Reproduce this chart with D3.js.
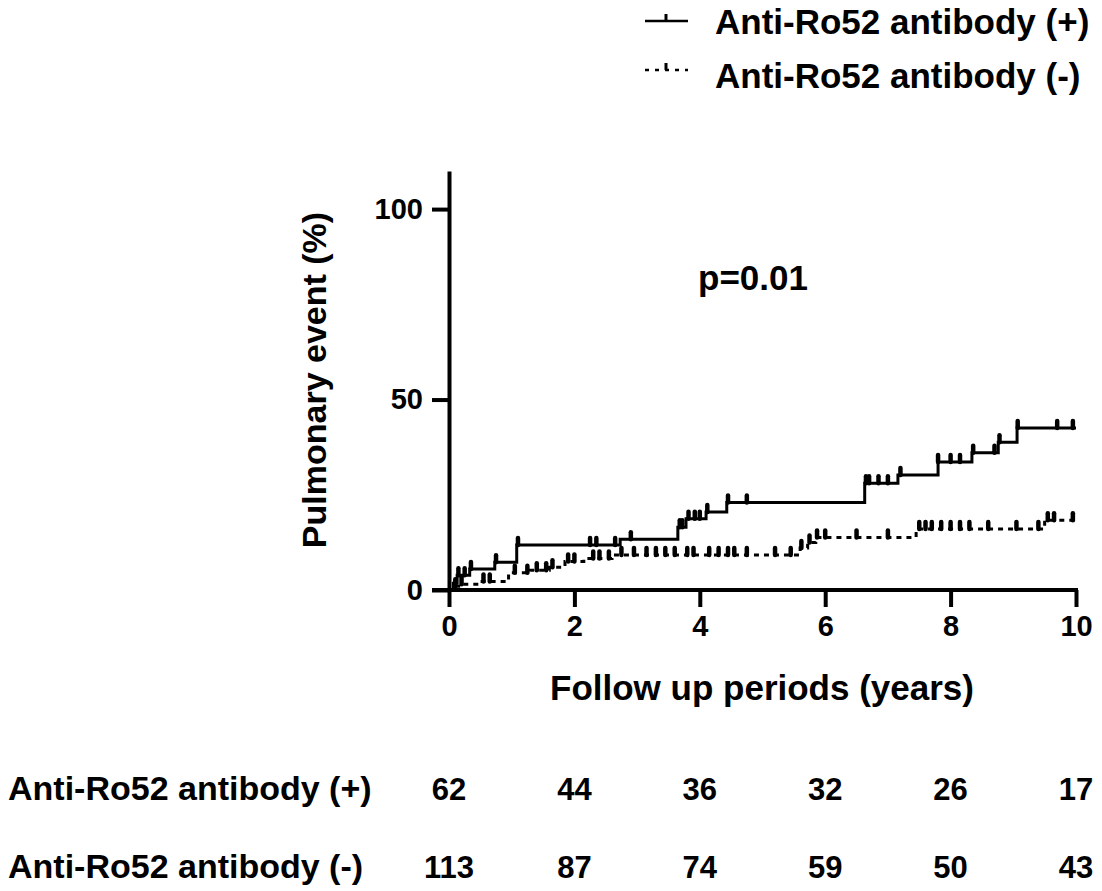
<!DOCTYPE html>
<html>
<head>
<meta charset="utf-8">
<script src="https://cdn.jsdelivr.net/npm/d3@7"></script>
<style>
  body { margin: 0; background: #fff; }
  text { font-family: Arial, "Liberation Sans", sans-serif; font-weight: bold; fill: #000; }
</style>
</head>
<body>
<div id="chart"></div>
<script>
// step curve data (years, cumulative %)
var posTimes = [0, 0.07, 0.13, 0.33, 0.73, 1.08, 2.73, 3.65, 3.78, 4.1, 4.43, 6.63, 7.16, 7.8, 8.34, 8.76, 9.06, 10];
var posPct   = [0, 1.8, 3.9, 5.5, 7.3, 11.8, 13.3, 16.5, 18.7, 20.5, 23, 28, 30.2, 33.6, 36, 38.8, 42.5, 42.5];
var negTimes = [0, 0.1, 0.2, 0.5, 0.95, 1.3, 1.6, 1.85, 2.15, 2.6, 5.6, 5.72, 5.85, 7.45, 9.5, 10];
var negPct   = [0, 1, 1.5, 2.2, 4.5, 5.2, 6, 7.5, 8.3, 9.2, 11, 12.5, 13.8, 16, 18.3, 18.3];

// censored observations (years)
var posCensor = [0.15, 0.25, 0.35, 0.75, 1.1, 2.25, 2.35, 2.65, 2.9, 3.68, 3.72, 3.82, 3.92, 4.0, 4.12, 4.45, 4.75,
                 6.65, 6.7, 6.85, 7.0, 7.2, 7.8, 8.0, 8.15, 8.36, 8.7, 8.78, 9.07, 9.7, 9.95];
var negCensor = [0.1, 0.2, 0.55, 0.65, 1.05, 1.25, 1.4, 1.55, 1.65, 1.9, 2.0, 2.3, 2.4, 2.55, 2.75, 2.95, 3.15, 3.3,
                 3.45, 3.6, 3.8, 3.9, 4.15, 4.3, 4.45, 4.55, 4.75, 5.2, 5.45, 5.62, 5.75, 5.87, 6.0, 6.5, 7.0,
                 7.5, 7.6, 7.7, 7.85, 8.0, 8.15, 8.3, 8.6, 9.05, 9.4, 9.55, 9.65, 9.95];

// numbers at risk
var riskYears = [0, 2, 4, 6, 8, 10];
var riskPos = [62, 44, 36, 32, 26, 17];
var riskNeg = [113, 87, 74, 59, 50, 43];

var groupNames = ["Anti-Ro52 antibody (+)", "Anti-Ro52 antibody (-)"];
var xTicks = [0, 2, 4, 6, 8, 10];
var yTicks = [0, 50, 100];

var width = 1102, height = 891;

var svg = d3.select("#chart")
    .append("svg")
    .attr("width", width)
    .attr("height", height);

var x = d3.scaleLinear().domain([0, 10]).range([449, 1076]);
var y = d3.scaleLinear().domain([0, 110]).range([590, 171]);

// axes
var yAxis = svg.append("g")
    .attr("transform", "translate(449,0)")
    .call(d3.axisLeft(y).tickValues(yTicks).tickSize(17).tickSizeOuter(0).tickPadding(9));
var xAxis = svg.append("g")
    .attr("transform", "translate(0,590)")
    .call(d3.axisBottom(x).tickValues(xTicks).tickSize(17).tickSizeOuter(0).tickPadding(8));

[yAxis, xAxis].forEach(function(g) {
    g.selectAll("path, line").attr("stroke", "#000").attr("stroke-width", 4);
    g.selectAll("text").style("font-size", "29px").style("font-family", "Arial, 'Liberation Sans', sans-serif")
        .style("font-weight", "bold").attr("fill", "#000");
});
xAxis.select(".domain").attr("d", "M432,0H1078");

// step lines
var line = d3.line()
    .x(d => x(d[0]))
    .y(d => y(d[1]))
    .curve(d3.curveStepAfter);

function stepValue(times, pct, t) {
    var i = d3.bisectRight(times, t) - 1;
    return pct[Math.max(0, i)];
}

var series = [
    { times: posTimes, pct: posPct, censor: posCensor, dash: null },
    { times: negTimes, pct: negPct, censor: negCensor, dash: "5,5" }
];

series.forEach(function(s) {
    svg.append("path")
        .datum(d3.zip(s.times, s.pct))
        .attr("fill", "none")
        .attr("stroke", "#000")
        .attr("stroke-width", 3)
        .attr("stroke-dasharray", s.dash)
        .attr("d", line);

    svg.selectAll(null)
        .data(s.censor)
        .enter()
        .append("line")
        .attr("x1", d => x(d))
        .attr("x2", d => x(d))
        .attr("y1", d => y(stepValue(s.times, s.pct, d)))
        .attr("y2", d => y(stepValue(s.times, s.pct, d)) - 7)
        .attr("stroke", "#000")
        .attr("stroke-width", 4.5)
        .attr("stroke-linecap", "round");
});

// p value
svg.append("text")
    .attr("x", 698)
    .attr("y", 290)
    .style("font-size", "35px")
    .text("p=0.01");

// axis titles
svg.append("text")
    .attr("transform", "translate(326,380) rotate(-90)")
    .attr("text-anchor", "middle")
    .style("font-size", "34px")
    .text("Pulmonary event (%)");

svg.append("text")
    .attr("x", 762)
    .attr("y", 700)
    .attr("text-anchor", "middle")
    .style("font-size", "35px")
    .text("Follow up periods (years)");

// legend
var legend = svg.append("g");
[0, 1].forEach(function(i) {
    var ly = 21 + i * 49;
    legend.append("line")
        .attr("x1", 645).attr("x2", 688)
        .attr("y1", ly).attr("y2", ly)
        .attr("stroke", "#000")
        .attr("stroke-width", 2.5)
        .attr("stroke-dasharray", i === 1 ? "4,6" : null);
    legend.append("line")
        .attr("x1", 666).attr("x2", 666)
        .attr("y1", ly).attr("y2", ly - 7)
        .attr("stroke", "#000")
        .attr("stroke-width", 3);
    legend.append("text")
        .attr("x", 715)
        .attr("y", 34 + i * 54)
        .style("font-size", "35px")
        .text(groupNames[i]);
});

// numbers at risk table
[riskPos, riskNeg].forEach(function(row, i) {
    var by = 800 + i * 78;
    svg.append("text")
        .attr("x", 8)
        .attr("y", by)
        .style("font-size", "34px")
        .text(groupNames[i]);
    svg.selectAll(null)
        .data(row)
        .enter()
        .append("text")
        .attr("x", (d, j) => x(riskYears[j]))
        .attr("y", by)
        .attr("text-anchor", "middle")
        .style("font-size", "31px")
        .text(d => d);
});
</script>
</body>
</html>
